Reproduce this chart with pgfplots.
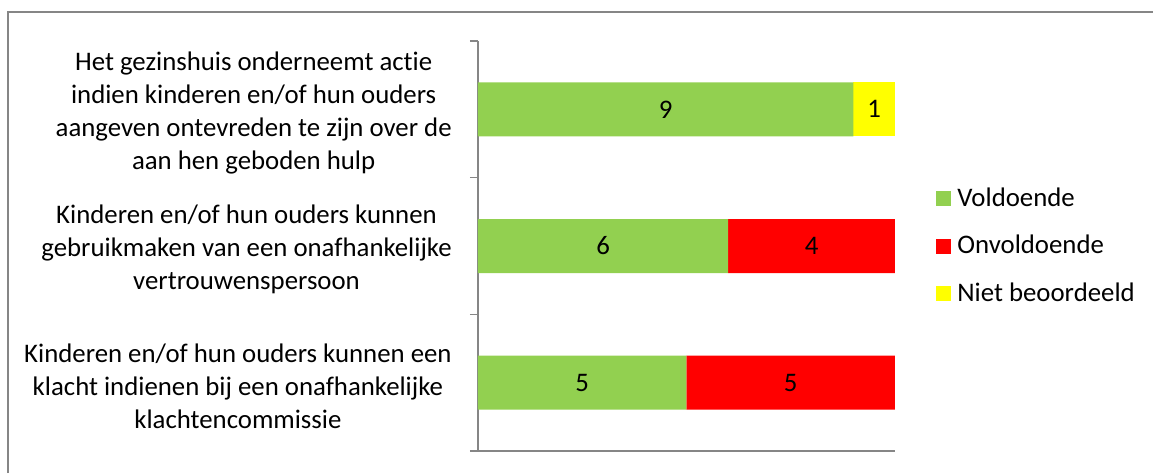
\documentclass[border=0pt]{standalone}
\usepackage{fontspec}
\setmainfont{Carlito}[Ligatures=NoCommon]
\usepackage{pgfplots}
\pgfplotsset{compat=1.18}
\definecolor{cGreen}{HTML}{92D050}
\definecolor{cRed}{HTML}{FF0000}
\definecolor{cYellow}{HTML}{FFFF00}
\definecolor{cAxis}{HTML}{868686}
\begin{document}
\begin{tikzpicture}[font=\fontsize{13.4pt}{16.5pt}\selectfont]
\path[use as bounding box] (0,0) rectangle (576.5pt,-236.5pt);
\draw[cAxis, line width=0.75pt] (4pt,-236.5pt) -- (4pt,-6pt) -- (576.5pt,-6pt);
\begin{axis}[
  at={(239pt,-225.5pt)}, anchor=south west,
  scale only axis, width=208.5pt, height=205pt,
  xmin=0, xmax=10, ymin=-0.5, ymax=2.5,
  axis lines*=left,
  axis line style={cAxis, line width=0.75pt},
  xtick=\empty,
  ytick={0,1,2},
  yticklabels={
    {Kinderen en/of hun ouders kunnen een\\klacht indienen bij een onafhankelijke\\klachtencommissie},
    {Kinderen en/of hun ouders kunnen\\gebruikmaken van een onafhankelijke\\vertrouwenspersoon},
    {Het gezinshuis onderneemt actie\\indien kinderen en/of hun ouders\\aangeven ontevreden te zijn over de\\aan hen geboden hulp}
  },
  major tick length=0pt,
  minor ytick={-0.5,0.5,1.5,2.5},
  minor tick length=4pt,
  tick align=outside,
  minor tick style={cAxis, line width=0.75pt},
  yticklabel style={anchor=east, align=center, inner sep=0pt, xshift=-13pt, yshift=-1.75pt},
  /pgf/number format/assume math mode=true,
  xbar stacked, bar width=27pt,
  nodes near coords={\pgfmathfloatifflags{\pgfplotspointmeta}{0}{}{\pgfmathprintnumber{\pgfplotspointmeta}}},
  every node near coord/.append style={black},
  legend style={at={(1,0.5)}, anchor=west, xshift=20.5pt, draw=none, fill=none,
    inner sep=0pt, row sep=10pt, column sep=1.5pt, legend cell align=left, nodes={inner sep=1.5pt}},
  legend image code/.code={\fill[#1] (0pt,-3.75pt) rectangle (7.5pt,3.75pt);},
]
\addplot[fill=cGreen, draw=none] coordinates {(5,0) (6,1) (9,2)};
\addplot[fill=cRed, draw=none] coordinates {(5,0) (4,1) (0,2)};
\addplot[fill=cYellow, draw=none] coordinates {(0,0) (0,1) (1,2)};
\legend{Voldoende, Onvoldoende, Niet beoordeeld}
\end{axis}
\end{tikzpicture}
\end{document}
